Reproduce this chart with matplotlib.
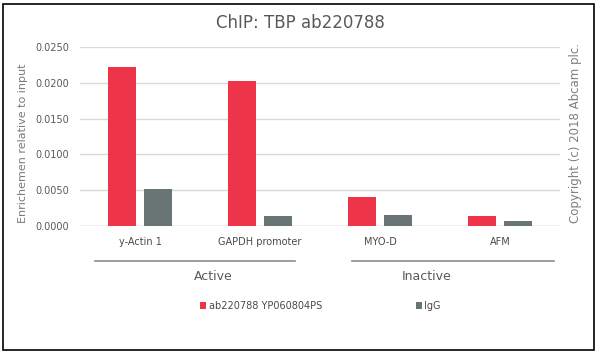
import numpy as np
import matplotlib.pyplot as plt
from matplotlib.patches import Rectangle

# datos
categories = ['y-Actin 1', 'GAPDH promoter', 'MYO-D', 'AFM']
groups = ['Active', 'Inactive']
series_names = ['ab220788 YP060804PS', 'IgG']
tbp_values = [0.0222, 0.0203, 0.0040, 0.0014]
igg_values = [0.0051, 0.0014, 0.0015, 0.0007]
yticks = [0.0, 0.005, 0.010, 0.015, 0.020, 0.025]

red = '#EE3449'
gray = '#697575'
txt = '#595959'

plt.rcParams['font.family'] = ['DejaVu Sans']

fig = plt.figure(figsize=(6, 3.55), dpi=100)
ax = fig.add_axes([0.1333, 0.3634, 0.8, 0.5042])

x = np.arange(len(categories))
w = 0.233
ax.bar(x - 0.15, tbp_values, w, color=red, label=series_names[0], zorder=3)
ax.bar(x + 0.15, igg_values, w, color=gray, label=series_names[1], zorder=3)

ax.set_xlim(-0.5, len(categories) - 0.5)
ax.set_ylim(0, 0.025)
ax.set_yticks(yticks)
ax.set_yticklabels([f'{v:.4f}' for v in yticks], fontsize=7, color=txt)
ax.set_xticks(x)
ax.set_xticklabels(categories, fontsize=7, color='#4a4a4a')
ax.tick_params(length=0, pad=8)
ax.grid(axis='y', color='#D9D9D9', lw=1, zorder=0)
for s in ax.spines.values():
    s.set_visible(False)
ax.axhline(0, color='#D9D9D9', lw=1, zorder=1)

ax.set_ylabel('Enrichemen relative to input', fontsize=8, color='#7a7a7a')
ax.yaxis.set_label_coords(-0.108, 0.46)

# lineas y etiquetas de grupos (extremos y posicion del texto)
group_spans = [(-0.375, 1.29), (1.77, 3.45)]
group_label_x = [0.61, 2.39]
for name, (a, b), lx in zip(groups, group_spans, group_label_x):
    ax.plot([a, b], [-0.00485, -0.00485], color='#8C8C8C', lw=1.2, clip_on=False)
    ax.text(lx, -0.0071, name, ha='center', va='center', fontsize=9, color=txt)

fig.suptitle('ChIP: TBP ab220788', x=0.5, y=0.96, fontsize=12, color=txt)

fig.text(0.96, 0.625, 'Copyright (c) 2018 Abcam plc.', rotation=90,
         ha='center', va='center', fontsize=8.5, color='#7F7F7F')

fig.legend(loc='center left', bbox_to_anchor=(0.334, 0.138), ncol=2, frameon=False,
           fontsize=7, handlelength=0.6, handleheight=0.6, handletextpad=0.3,
           columnspacing=9.6, labelcolor='#4a4a4a', borderpad=0, borderaxespad=0)

fig.add_artist(Rectangle((0.005, 0.014), 0.985, 0.975, transform=fig.transFigure,
                         fill=False, edgecolor='black', lw=1.2))

fig.savefig('out.png', dpi=100, facecolor='white')
